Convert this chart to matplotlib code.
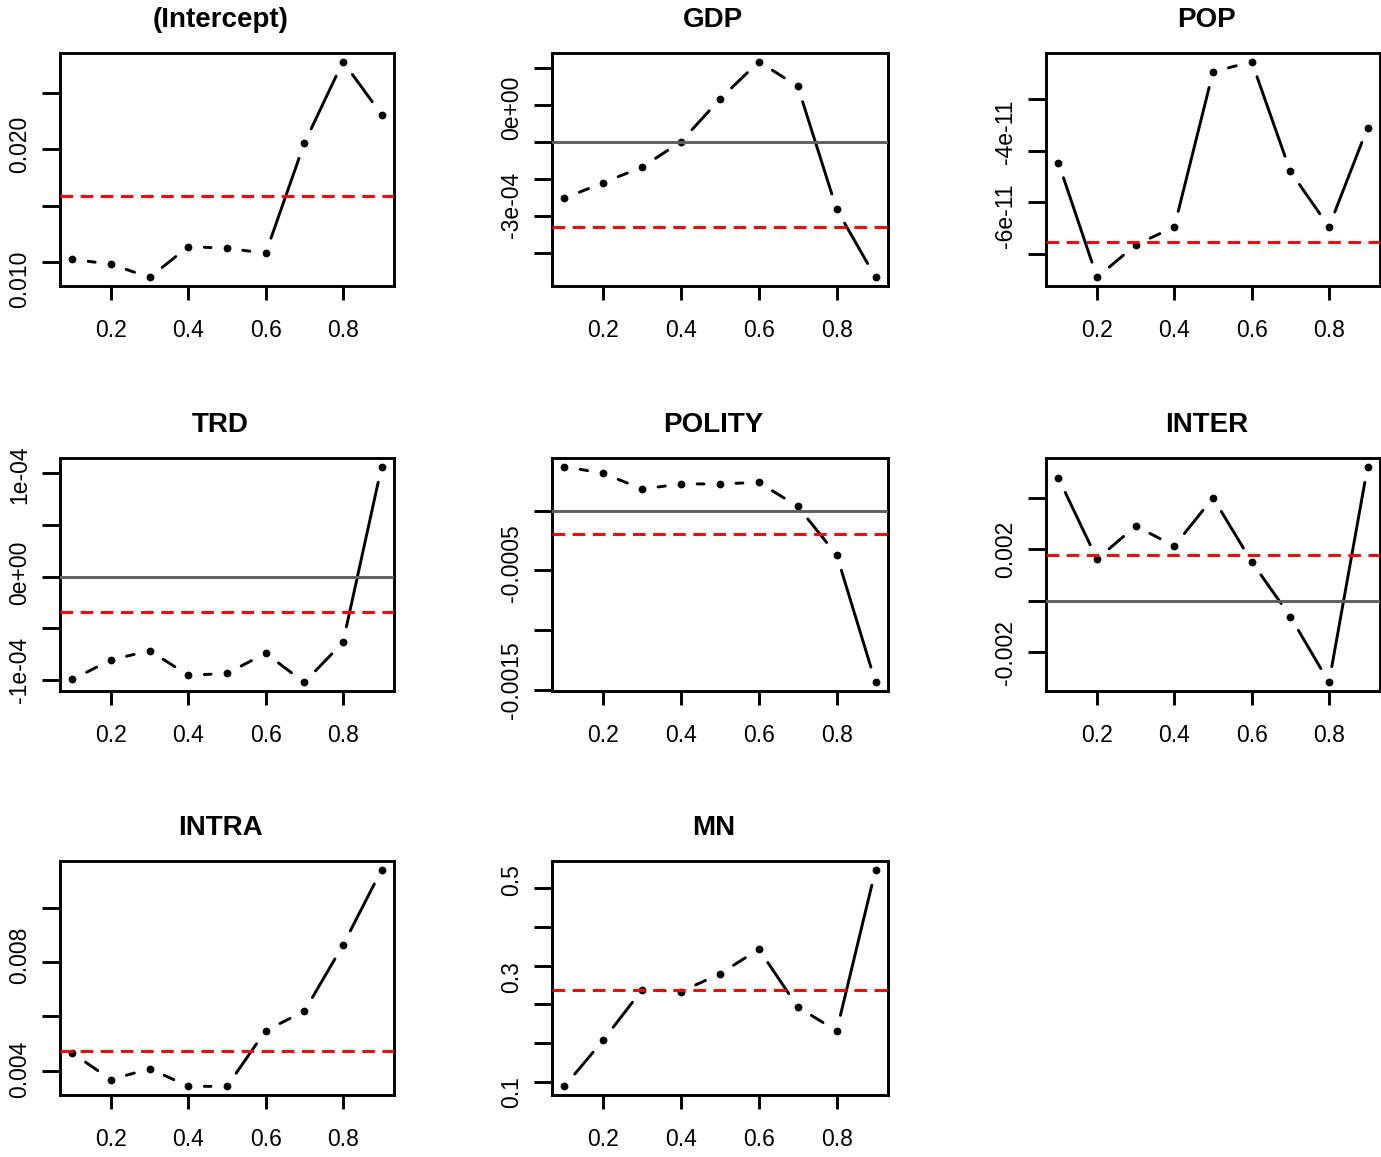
import numpy as np
import matplotlib
matplotlib.use("Agg")
import matplotlib.pyplot as plt

plt.rcParams["font.family"] = ["Liberation Sans", "DejaVu Sans"]

# ── data: quantile-regression coefficients by tau ─────────────────────
taus = [0.1, 0.2, 0.3, 0.4, 0.5, 0.6, 0.7, 0.8, 0.9]

names = ["(Intercept)", "GDP", "POP", "TRD", "POLITY", "INTER", "INTRA", "MN"]

intercept = [0.01027, 0.00983, 0.00867, 0.01139, 0.01125, 0.0108, 0.02053, 0.02775, 0.02307]
gdp = [-1.53e-4, -1.11e-4, -0.69e-4, 0.0, 1.15e-4, 2.16e-4, 1.49e-4, -1.83e-4, -3.67e-4]
pop = [-4.23e-11, -6.46e-11, -5.83e-11, -5.48e-11, -2.47e-11, -2.27e-11, -4.40e-11, -5.48e-11, -3.55e-11]
trd = [-0.994e-4, -0.806e-4, -0.716e-4, -0.955e-4, -0.936e-4, -0.742e-4, -1.023e-4, -0.636e-4, 1.065e-4]
polity = [0.37e-3, 0.314e-3, 0.182e-3, 0.225e-3, 0.225e-3, 0.238e-3, 0.036e-3, -0.370e-3, -1.438e-3]
inter = [4.78e-3, 1.62e-3, 2.91e-3, 2.13e-3, 4.01e-3, 1.52e-3, -0.61e-3, -3.17e-3, 5.22e-3]
intra = [0.004654, 0.003679, 0.004085, 0.003434, 0.003434, 0.005479, 0.006192, 0.008621, 0.011394]
mn = [0.0917, 0.1870, 0.2907, 0.2865, 0.3232, 0.3736, 0.2548, 0.2057, 0.5373]

# OLS estimates (red dashed reference line)
ols = [0.01583, -2.32e-4, -5.78e-11, -0.342e-4, -0.191e-3, 1.78e-3, 0.004739, 0.2907]

# y tick marks and the labels written beside them
y_ticks = [
    [0.010, 0.015, 0.020, 0.025],
    [-3e-4, -2e-4, -1e-4, 0.0, 1e-4, 2e-4],
    [-6e-11, -5e-11, -4e-11, -3e-11],
    [-1e-4, -0.5e-4, 0.0, 0.5e-4, 1e-4],
    [-0.0015, -0.001, -0.0005, 0.0],
    [-0.002, 0.0, 0.002, 0.004],
    [0.004, 0.006, 0.008, 0.010],
    [0.1, 0.18, 0.26, 0.34, 0.42, 0.5],
]
y_label_text = [
    ["0.010", "0.020"],
    ["-3e-04", "0e+00"],
    ["-6e-11", "-4e-11"],
    ["-1e-04", "0e+00", "1e-04"],
    ["-0.0015", "-0.0005"],
    ["-0.002", "0.002"],
    ["0.004", "0.008"],
    ["0.1", "0.3", "0.5"],
]
y_label_at = [
    [0.00852, 0.02047],
    [-1.72e-4, 0.91e-4],
    [-5.26e-11, -3.64e-11],
    [-0.90e-4, 0.04e-4, 0.99e-4],
    [-1.42e-3, -0.437e-3],
    [-2.03e-3, 1.99e-3],
    [0.00404, 0.00825],
    [0.079, 0.3155, 0.5166],
]
x_ticks = [0.2, 0.4, 0.6, 0.8]

series = [intercept, gdp, pop, trd, polity, inter, intra, mn]

# panel boxes in pixels: (left, top, width, height)
W, H = 1381, 1157
col_left = [60, 552, 1046]
col_width = [334, 336, 334]
row_top = [53, 458, 861]
row_height = [233, 233, 234]

LW = 2.1


def padded(vals, frac=0.04):
    lo, hi = min(vals), max(vals)
    pad = (hi - lo) * frac
    return lo - pad, hi + pad


fig = plt.figure(figsize=(W / 100, H / 100), dpi=100)

for i, (name, vals) in enumerate(zip(names, series)):
    r, c = divmod(i, 3)
    left, top = col_left[c], row_top[r]
    w, h = col_width[c], row_height[r]
    ax = fig.add_axes([left / W, 1 - (top + h) / H, w / W, h / H])

    # points joined by segments that stop short of each point (type = "b")
    ax.plot(taus, vals, "o", color="black", markersize=4.6, zorder=3)
    for x0, y0, x1, y1 in zip(taus[:-1], vals[:-1], taus[1:], vals[1:]):
        ax.annotate(
            "", xy=(x1, y1), xytext=(x0, y0),
            arrowprops=dict(arrowstyle="-", color="black", lw=LW,
                            shrinkA=11.5, shrinkB=11.5),
            zorder=3,
        )

    ax.axhline(0, color="#5f5f5f", lw=LW, zorder=4)
    ax.axhline(ols[i], color="#ff0000", lw=LW, dashes=(4.3, 2.6), zorder=5)

    ax.set_xlim(*padded(taus))
    ax.set_ylim(*padded(vals))

    ax.set_xticks(x_ticks, labels=[f"{t:.1f}" for t in x_ticks])
    ax.tick_params(axis="x", which="major", length=10, width=LW,
                   pad=14, labelsize=16.5)

    ax.set_yticks(y_ticks[i], labels=[""] * len(y_ticks[i]))
    ax.set_yticks(y_label_at[i], labels=y_label_text[i], minor=True,
                  rotation=90, va="center")
    ax.tick_params(axis="y", which="major", length=13, width=LW)
    ax.tick_params(axis="y", which="minor", length=0, pad=21, labelsize=16.5)

    for s in ax.spines.values():
        s.set_linewidth(LW)

    ax.set_title(name, fontsize=20, fontweight="bold", x=0.48, pad=19)

fig.savefig("out.png", dpi=100)
